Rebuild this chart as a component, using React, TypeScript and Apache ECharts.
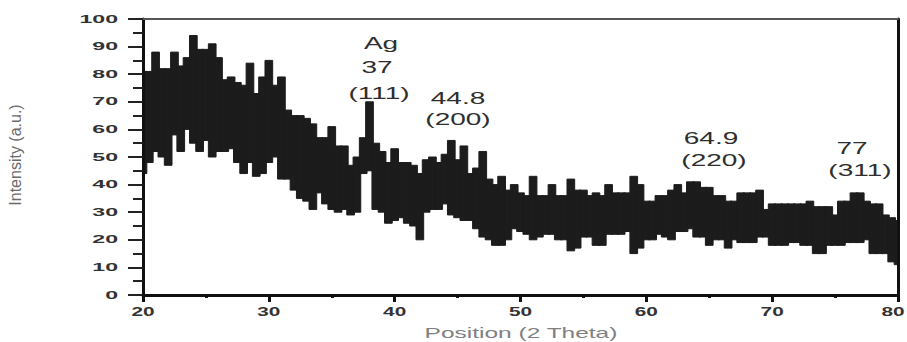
import { useEffect, useRef } from "react";
import * as echarts from "echarts";

// 2θ sampling positions (degrees)
const theta = [
  20, 20.5, 21, 21.5, 22, 22.5, 23, 23.5, 24, 24.5,
  25, 25.5, 26, 26.5, 27, 27.5, 28, 28.5, 29, 29.5,
  30, 30.5, 31, 31.5, 32, 32.5, 33, 33.5, 34, 34.5,
  35, 35.5, 36, 36.5, 37, 37.5, 38, 38.5, 39, 39.5,
  40, 40.5, 41, 41.5, 42, 42.5, 43, 43.5, 44, 44.5,
  45, 45.5, 46, 46.5, 47, 47.5, 48, 48.5, 49, 49.5,
  50, 50.5, 51, 51.5, 52, 52.5, 53, 53.5, 54, 54.5,
  55, 55.5, 56, 56.5, 57, 57.5, 58, 58.5, 59, 59.5,
  60, 60.5, 61, 61.5, 62, 62.5, 63, 63.5, 64, 64.5,
  65, 65.5, 66, 66.5, 67, 67.5, 68, 68.5, 69, 69.5,
  70, 70.5, 71, 71.5, 72, 72.5, 73, 73.5, 74, 74.5,
  75, 75.5, 76, 76.5, 77, 77.5, 78, 78.5, 79, 79.5,
  80,
];

// upper envelope of the noisy intensity trace (a.u.)
const upper = [
  81, 81, 88, 82, 82, 88, 83, 86, 94, 89,
  89, 91, 86, 78, 79, 77, 76, 84, 73, 79,
  85, 76, 79, 67, 65, 65, 64, 62, 57, 57,
  61, 54, 54, 47, 50, 57, 70, 55, 52, 48,
  53, 48, 48, 47, 44, 49, 50, 48, 51, 56,
  49, 54, 44, 46, 52, 42, 40, 43, 38, 40,
  37, 36, 43, 36, 36, 40, 36, 36, 42, 38,
  38, 36, 37, 36, 40, 37, 37, 37, 43, 40,
  34, 34, 36, 36, 38, 40, 37, 41, 41, 39,
  39, 36, 36, 34, 34, 37, 37, 37, 38, 31,
  33, 33, 33, 33, 33, 33, 34, 32, 32, 32,
  29, 34, 34, 37, 37, 34, 33, 33, 29, 28,
  27,
];

// lower envelope of the noisy intensity trace (a.u.)
const lower = [
  44, 48, 52, 50, 47, 58, 52, 60, 55, 52,
  56, 50, 52, 52, 53, 48, 44, 48, 43, 44,
  48, 50, 42, 42, 38, 35, 34, 31, 37, 33,
  31, 30, 31, 29, 30, 44, 45, 31, 30, 26,
  27, 28, 26, 25, 20, 30, 31, 31, 33, 29,
  28, 27, 27, 24, 21, 20, 18, 18, 20, 24,
  23, 22, 20, 21, 22, 22, 20, 20, 16, 17,
  21, 21, 18, 18, 22, 22, 22, 23, 15, 17,
  20, 20, 22, 21, 20, 23, 23, 24, 21, 21,
  18, 20, 20, 17, 20, 19, 19, 19, 21, 21,
  18, 18, 18, 19, 19, 18, 18, 15, 15, 18,
  18, 18, 19, 19, 19, 20, 15, 15, 15, 12,
  11,
];

const xTicks = [20, 30, 40, 50, 60, 70, 80];
const yTicks = [0, 10, 20, 30, 40, 50, 60, 70, 80, 90, 100];

const xTitle = "Position (2 Theta)";
const yTitle = "Intensity (a.u.)";

// peak annotations (text lines)
const peakAg = ["Ag", "37", "(111)"];
const peak200 = ["44.8", "(200)"];
const peak220 = ["64.9", "(220)"];
const peak311 = ["77", "(311)"];

export default function App() {
  const ref = useRef<HTMLDivElement>(null);

  useEffect(() => {
    if (!ref.current) return;
    const chart = echarts.init(ref.current, null, { renderer: "svg" });

    const data = theta.map((t, i) => [t, lower[i], upper[i]]);
    const half = 0.25;

    const option: any = {
      animation: false,
      backgroundColor: "#ffffff",
      grid: { left: 143, right: 9, top: 19, bottom: 47, containLabel: false },
      xAxis: [
        {
          type: "value",
          min: 20,
          max: 80,
          interval: 10,
          z: 5,
          axisLine: { show: true, onZero: false, lineStyle: { color: "#111", width: 3 } },
          axisTick: { show: true, length: 7, lineStyle: { color: "#111", width: 3 } },
          minorTick: { show: true, splitNumber: 2, length: 3, lineStyle: { color: "#111", width: 3 } },
          axisLabel: { show: false },
          splitLine: { show: false },
        },
        {
          type: "value",
          position: "top",
          min: 20,
          max: 80,
          z: 5,
          axisLine: { show: true, onZero: false, lineStyle: { color: "#555", width: 2 } },
          axisTick: { show: false },
          axisLabel: { show: false },
          splitLine: { show: false },
        },
      ],
      yAxis: [
        {
          type: "value",
          min: 0,
          max: 100,
          interval: 10,
          z: 5,
          axisLine: { show: true, onZero: false, lineStyle: { color: "#111", width: 3 } },
          axisTick: { show: true, length: 15, lineStyle: { color: "#222", width: 2 } },
          minorTick: { show: true, splitNumber: 2, length: 10, lineStyle: { color: "#222", width: 2 } },
          axisLabel: { show: false },
          splitLine: { show: false },
        },
        {
          type: "value",
          position: "right",
          min: 0,
          max: 100,
          z: 5,
          axisLine: { show: true, onZero: false, lineStyle: { color: "#111", width: 3 } },
          axisTick: { show: false },
          axisLabel: { show: false },
          splitLine: { show: false },
        },
      ],
      series: [
        {
          name: "Intensity",
          type: "custom",
          xAxisIndex: 0,
          yAxisIndex: 0,
          encode: { x: 0, y: [1, 2] },
          data,
          renderItem: (_params: any, api: any) => {
            const t = api.value(0);
            const lo = api.value(1);
            const hi = api.value(2);
            const a = api.coord([Math.max(t - half, 20), hi]);
            const b = api.coord([Math.min(t + half, 80), lo]);
            const left = t - half <= 20 ? a[0] : a[0] - 0.7;
            const right = t + half >= 80 ? b[0] : b[0] + 0.7;
            return {
              type: "rect",
              shape: { x: left, y: a[1], width: right - left, height: b[1] - a[1] },
              style: { fill: "#1c1c1c", stroke: "#1c1c1c", lineWidth: 1 },
            };
          },
        },
      ],
    };
    chart.setOption(option);

    const graphics: any[] = [];
    const toPx = (v: number[]) => chart.convertToPixel({ xAxisIndex: 0, yAxisIndex: 0 }, v) as number[];

    yTicks.forEach((v) => {
      const [px, py] = toPx([20, v]);
      graphics.push({
        type: "text",
        x: px - 25,
        y: py,
        z: 100,
        scaleX: 2.1,
        style: {
          text: String(v),
          align: "right",
          verticalAlign: "middle",
          font: 'bold 11px "Liberation Sans", Arial, sans-serif',
          fill: "#333",
        },
      });
    });
    xTicks.forEach((v) => {
      const [px, py] = toPx([v, 0]);
      graphics.push({
        type: "text",
        x: Math.min(px, 893),
        y: py + 17,
        z: 100,
        scaleX: 1.6,
        style: {
          text: String(v),
          align: "center",
          verticalAlign: "middle",
          font: 'bold 13px "Liberation Sans", Arial, sans-serif',
          fill: "#333",
        },
      });
    });

    graphics.push({
      type: "text",
      x: 521,
      y: 333,
      z: 100,
      scaleX: 1.75,
      style: {
        text: xTitle,
        align: "center",
        verticalAlign: "middle",
        font: '14px "Liberation Sans", Arial, sans-serif',
        fill: "#808080",
      },
    });
    graphics.push({
      type: "text",
      x: 15,
      y: 155,
      z: 100,
      rotation: Math.PI / 2,
      style: {
        text: yTitle,
        align: "center",
        verticalAlign: "middle",
        font: '16px "Liberation Sans Narrow", "Liberation Sans", Arial, sans-serif',
        fill: "#6a6a6a",
      },
    });

    const ann = (lines: string[], xs: number[], ys: number[]) => {
      lines.forEach((t, i) => {
        graphics.push({
          type: "text",
          x: xs[i],
          y: ys[i],
          z: 100,
          scaleX: 1.75,
          style: {
            text: t,
            align: "center",
            verticalAlign: "middle",
            font: '16px "Liberation Sans", Arial, sans-serif',
            fill: "#2e2e2e",
          },
        });
      });
    };
    ann(peakAg, [381, 377, 379], [43, 67, 93]);
    ann(peak200, [458, 458], [98, 119]);
    ann(peak220, [711, 714], [138, 160]);
    ann(peak311, [852, 860], [148, 170]);

    chart.setOption({ graphic: graphics });

    return () => chart.dispose();
  }, []);

  return (
    <div
      ref={ref}
      style={{ position: "absolute", left: 0, top: 0, width: 907, height: 342 }}
    />
  );
}
